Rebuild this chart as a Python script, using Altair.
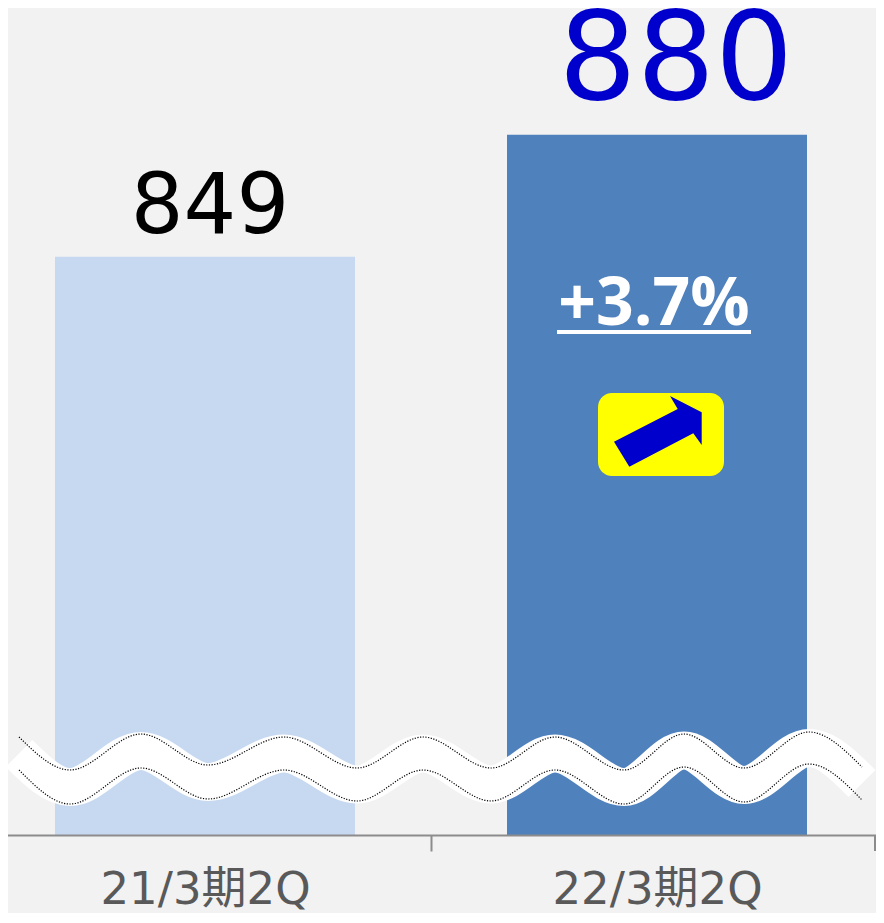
import altair as alt
import pandas as pd

categories = ["21/3期2Q", "22/3期2Q"]
values = [849, 880]
bar_colors = ["#c6d9f1", "#4f81bd"]
growth_label = ["+3.7%"]

wave_x = [19, 70, 141, 208, 284, 357, 423, 491, 555, 624, 684, 744, 809, 862]
wave_top = [737, 770, 734, 765, 737, 768, 737, 768, 737, 770, 734, 768, 732, 767]
wave_bot = [770, 804, 768, 799, 770, 801, 770, 801, 770, 804, 767, 802, 764, 800]
wave_mid = [753.5, 787, 751, 782, 753.5, 784.5, 753.5, 784.5, 753.5, 787, 750.5, 785, 748, 783.5]

FONT = "DejaVu Sans, Noto Sans CJK JP"
ARROW = "M-1,0.232L-0.652,0.8L0.802,0.041L0.993,0.307L0.993,-0.436L0.273,-0.807L0.448,-0.511Z"

bars_df = pd.DataFrame({"cat": categories, "value": values, "base": [702, 702], "color": bar_colors})
wave_df = pd.DataFrame({"x": wave_x, "top": wave_top, "bot": wave_bot, "mid": wave_mid, "order": range(len(wave_x))})

x_band = alt.Scale(domain=categories, range=[-29, 875], paddingInner=0, paddingOuter=0)
y_val = alt.Scale(domain=[702, 912.2], range=[827, 0], zero=False, nice=False, clamp=False)
px_x = alt.Scale(domain=[0, 884], range=[-8, 876], nice=False, zero=False)
px_y = alt.Scale(domain=[0, 835], range=[-8, 827], nice=False, zero=False)


def X(f):
    return alt.X(f, type="quantitative", scale=px_x, axis=None)


def Y(f):
    return alt.Y(f, type="quantitative", scale=px_y, axis=None)


bars = alt.Chart(bars_df).mark_bar(size=300, clip=False).encode(
    x=alt.X("cat:N", scale=x_band, sort=categories, title=None, axis=alt.Axis(
        labelAngle=0, labelFont=FONT, labelFontSize=45, labelColor="#595959", labelLimit=400,
        labelPadding=52, labelBaseline="alphabetic", labelOverlap=False, labelFlush=False,
        domainColor="#8c8c8c", domainWidth=2, tickColor="#8c8c8c", tickWidth=2, tickSize=16,
        tickBand="extent", grid=False, zindex=1)),
    y=alt.Y("value:Q", scale=y_val, axis=None),
    y2="base:Q",
    color=alt.Color("color:N", scale=None, legend=None),
)


def value_text(i, size, color, dx, dy):
    return alt.Chart(bars_df.iloc[[i]]).mark_text(
        font=FONT, fontSize=size, color=color, dx=dx, dy=dy, baseline="alphabetic", align="center"
    ).encode(
        x=alt.X("cat:N", scale=x_band, sort=categories, axis=None),
        y=alt.Y("value:Q", scale=y_val, axis=None),
        text="value:Q",
    )


t849 = value_text(0, 83, "#000000", 5, -24)
t880 = value_text(1, 123, "#0000cc", 19, -36)

growth = alt.Chart(pd.DataFrame({"x": [654], "y": [325], "t": growth_label})).mark_text(
    font="Open Sans", fontSize=66, fontWeight="bold", color="#ffffff", baseline="alphabetic", align="center"
).encode(x=X("x"), y=Y("y"), text="t:N")

underline = alt.Chart(pd.DataFrame({"x": [557], "x2": [751], "y": [332]})).mark_rule(
    color="#ffffff", strokeWidth=4
).encode(x=X("x"), x2="x2:Q", y=Y("y"))

badge = alt.Chart(pd.DataFrame({"x": [598], "x2": [724], "y": [393], "y2": [476]})).mark_rect(
    color="#ffff00", cornerRadius=14
).encode(x=X("x"), x2="x2:Q", y=Y("y"), y2="y2:Q")

arrow = alt.Chart(pd.DataFrame({"x": [658], "y": [431.5]})).mark_point(
    shape=ARROW, size=7744, filled=True, fill="#0000cc", opacity=1
).encode(x=X("x"), y=Y("y"))

end_tick = alt.Chart(pd.DataFrame({"x": [875], "y": [835], "y2": [851]})).mark_rule(
    color="#8c8c8c", strokeWidth=2
).encode(x=X("x"), y=Y("y"), y2="y2:Q")

wave_white = alt.Chart(wave_df).mark_line(
    color="#ffffff", strokeWidth=38, interpolate="monotone", strokeCap="butt", clip=False
).encode(x=X("x"), y=Y("mid"), order="order:Q")

wave_t = alt.Chart(wave_df).mark_line(
    color="#000000", strokeWidth=1.2, strokeDash=[1.2, 1.5], interpolate="monotone"
).encode(x=X("x"), y=Y("top"), order="order:Q")

wave_b = alt.Chart(wave_df).mark_line(
    color="#000000", strokeWidth=1.2, strokeDash=[1.2, 1.5], interpolate="monotone"
).encode(x=X("x"), y=Y("bot"), order="order:Q")

chart = alt.layer(
    bars, t849, t880, growth, underline, badge, arrow, end_tick, wave_white, wave_t, wave_b
).resolve_scale(x="independent", y="independent").resolve_axis(x="independent", y="independent").properties(
    width=868, height=827,
    background="#f2f2f2",
    padding={"left": 0, "top": 0, "right": 0, "bottom": 78},
    autosize=alt.AutoSizeParams(type="none"),
).configure_view(stroke=None)

chart.save("out.html", embed_options={"renderer": "svg", "actions": False})
